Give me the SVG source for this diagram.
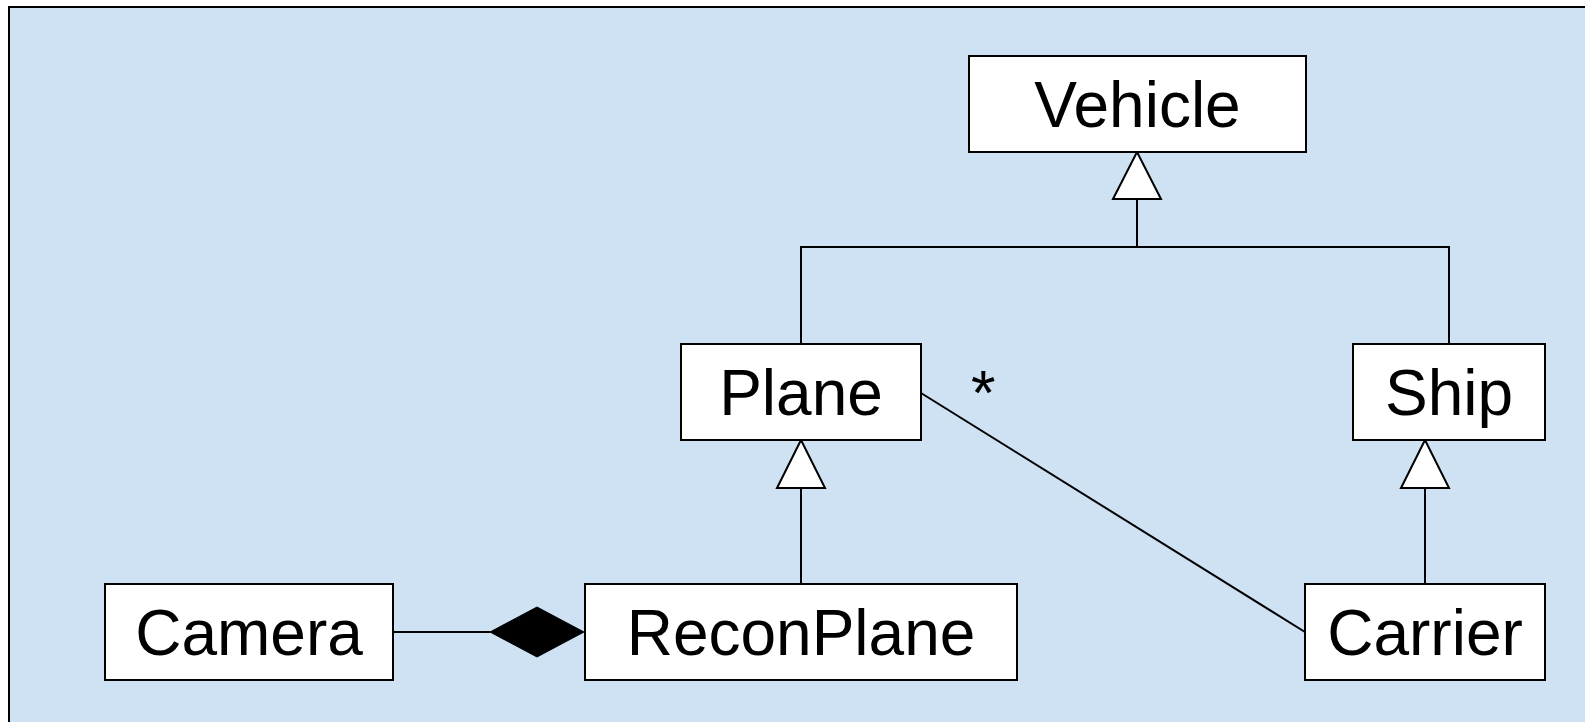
<svg xmlns="http://www.w3.org/2000/svg" width="1585" height="722" viewBox="0 0 1585 722">
<style>
.box{fill:#ffffff;stroke:#000000;stroke-width:2}
.lbl{font-family:"Liberation Sans",Arial,sans-serif;font-size:64px;fill:#000000;text-anchor:middle}
.ln{fill:none;stroke:#000000;stroke-width:2}
.tri{fill:#ffffff;stroke:#000000;stroke-width:2}
.dia{fill:#000000;stroke:#000000;stroke-width:1}
</style>
<rect x="9" y="7" width="1620" height="760" fill="#cfe2f3" stroke="#000000" stroke-width="2"/>
<g id="connectors">
<polyline class="ln" points="801,344 801,247 1449,247 1449,344"/>
<line class="ln" x1="1137" y1="199" x2="1137" y2="247"/>
<polygon class="tri" points="1137,152 1113,199 1161,199"/>
<line class="ln" x1="801" y1="488" x2="801" y2="584"/>
<polygon class="tri" points="801,440 777,488 825,488"/>
<line class="ln" x1="1425" y1="488" x2="1425" y2="584"/>
<polygon class="tri" points="1425,440 1401,488 1449,488"/>
<line class="ln" x1="921" y1="393" x2="1305" y2="632"/>
<text x="971" y="414" style="font-family:'Liberation Sans',Arial,sans-serif;font-size:63px">*</text>
<line class="ln" x1="393" y1="632" x2="490" y2="632"/>
<polygon class="dia" points="490,632 537,607 584,632 537,657"/>
</g>
<g id="Vehicle"><rect class="box" x="969" y="56" width="337" height="96"/><text class="lbl" x="1137.5" y="127">Vehicle</text></g>
<g id="Plane"><rect class="box" x="681" y="344" width="240" height="96"/><text class="lbl" x="801" y="415">Plane</text></g>
<g id="Ship"><rect class="box" x="1353" y="344" width="192" height="96"/><text class="lbl" x="1449" y="415">Ship</text></g>
<g id="Camera"><rect class="box" x="105" y="584" width="288" height="96"/><text class="lbl" x="249" y="655">Camera</text></g>
<g id="ReconPlane"><rect class="box" x="585" y="584" width="432" height="96"/><text class="lbl" x="801" y="655">ReconPlane</text></g>
<g id="Carrier"><rect class="box" x="1305" y="584" width="240" height="96"/><text class="lbl" x="1425" y="655">Carrier</text></g>
</svg>
